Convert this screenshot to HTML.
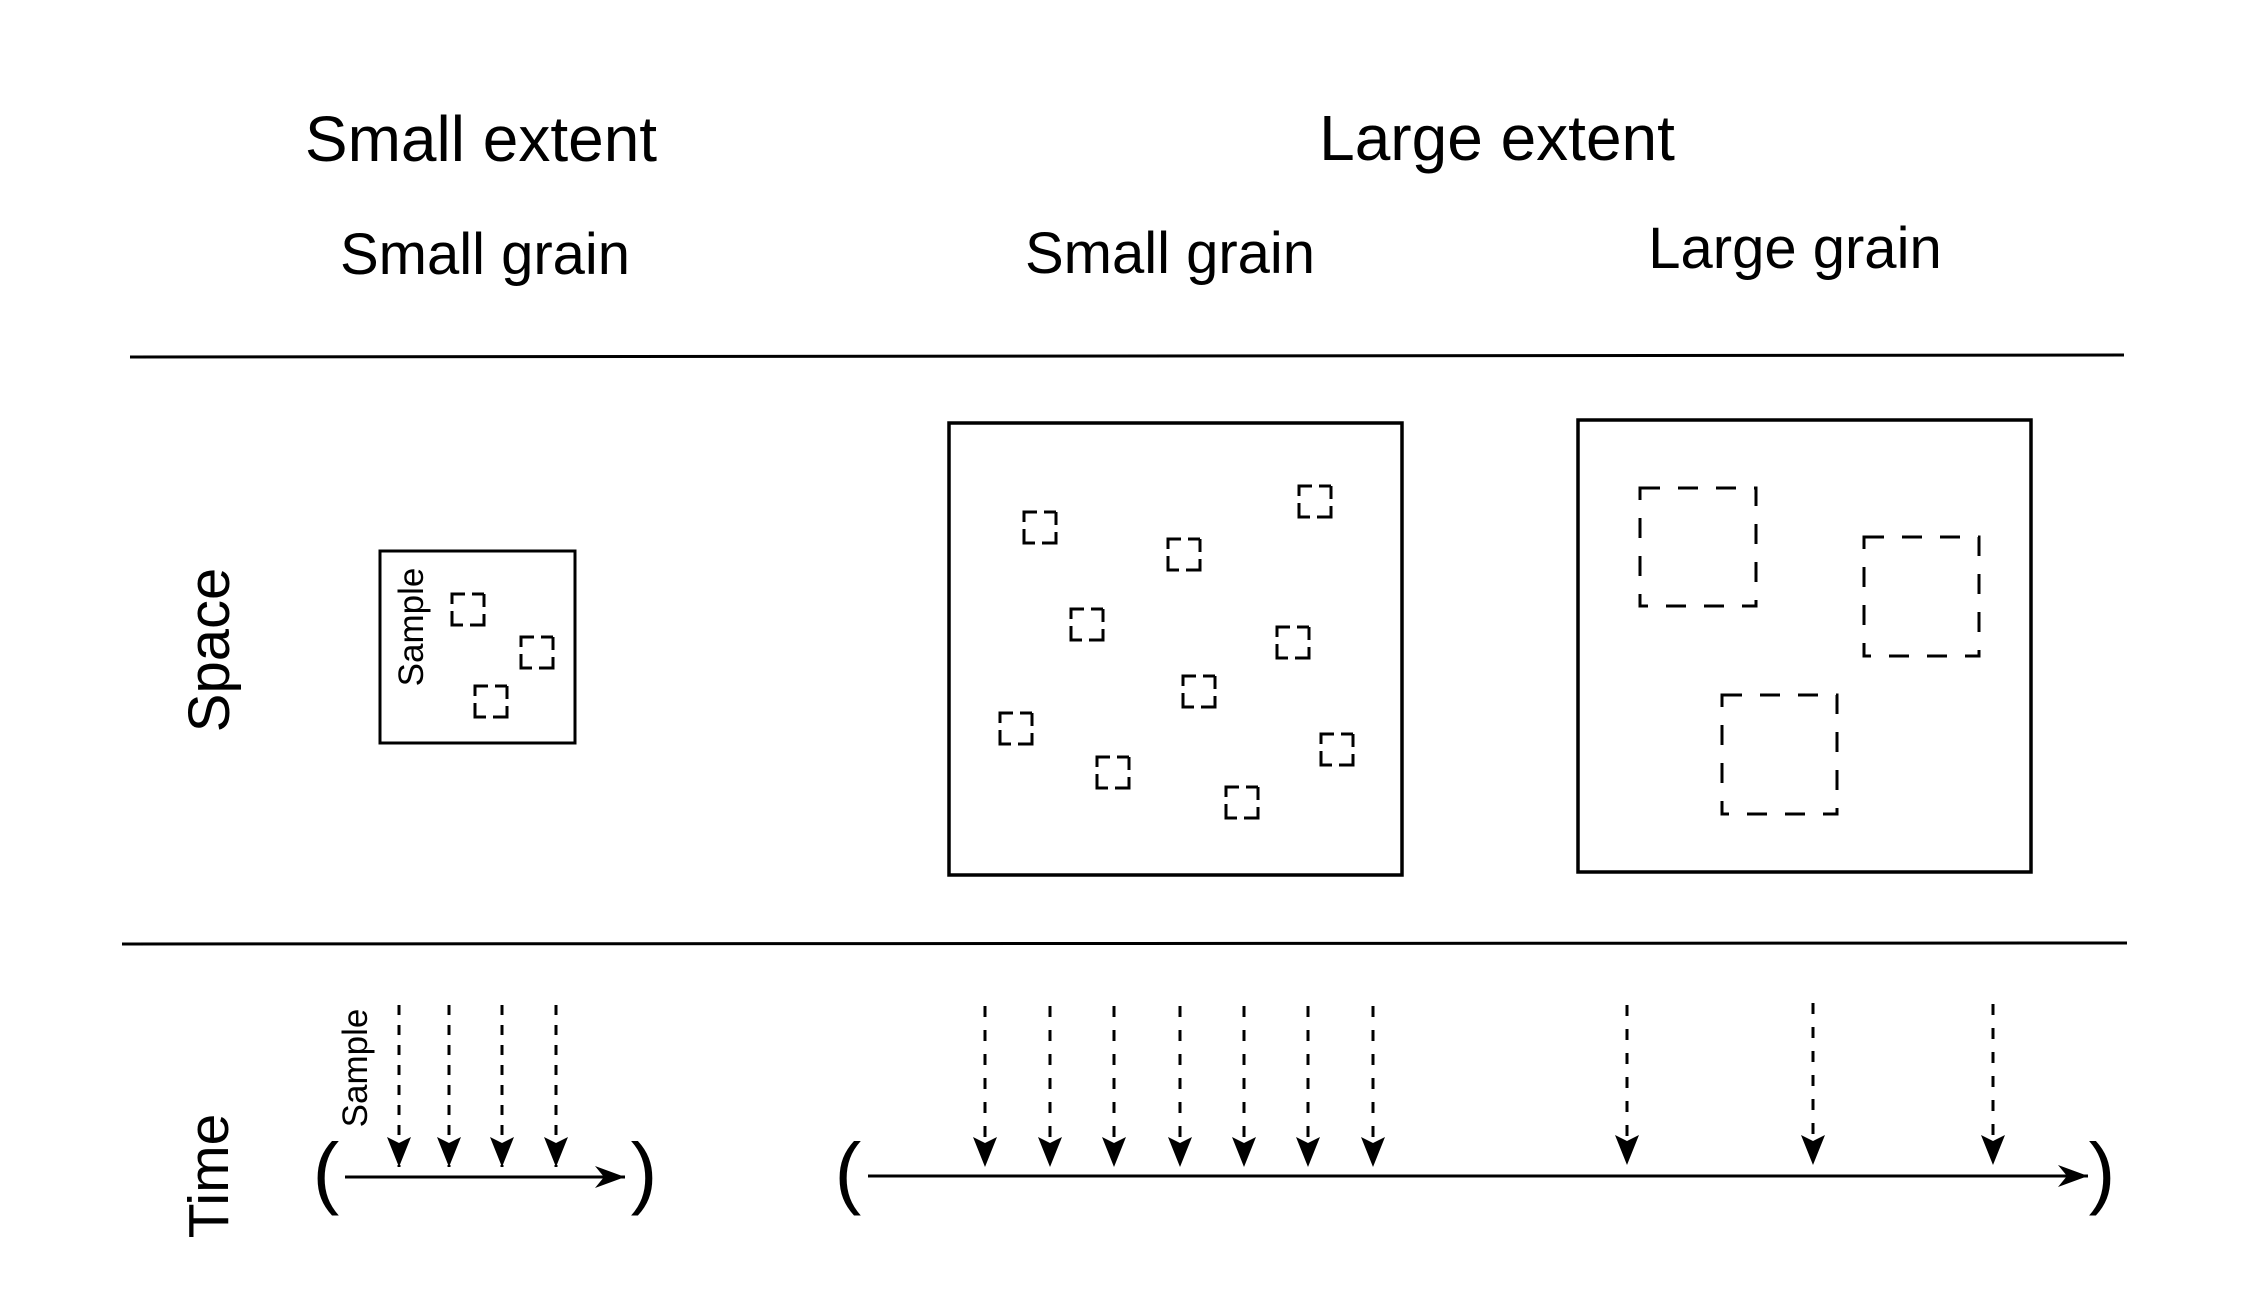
<!DOCTYPE html>
<html><head><meta charset="utf-8"><style>
html,body{margin:0;padding:0;background:#fff;}
svg{display:block;}
text{font-family:"Liberation Sans",Arial,sans-serif;fill:#000;}
</style></head><body>
<svg width="2242" height="1310" viewBox="0 0 2242 1310" xmlns="http://www.w3.org/2000/svg">
<defs>
<marker id="ah" viewBox="0 0 10 10" refX="10" refY="5" markerWidth="30" markerHeight="22" markerUnits="userSpaceOnUse" orient="auto" preserveAspectRatio="none">
<path d="M0,0 L10,5 L0,10 L3,5 Z" fill="#000"/>
</marker>
<marker id="dh" viewBox="0 0 10 10" refX="10" refY="5" markerWidth="30" markerHeight="24" markerUnits="userSpaceOnUse" orient="auto" preserveAspectRatio="none">
<path d="M0,0 L10,5 L0,10 L2,5 Z" fill="#000"/>
</marker>
</defs>

<text x="481" y="161" font-size="64" text-anchor="middle">Small extent</text>
<text x="1497" y="160" font-size="64" text-anchor="middle">Large extent</text>
<text x="485" y="274" font-size="58" text-anchor="middle">Small grain</text>
<text x="1170" y="273" font-size="58" text-anchor="middle">Small grain</text>
<text x="1795" y="268" font-size="58" text-anchor="middle">Large grain</text>

<line x1="130" y1="357" x2="2124" y2="355" stroke="#000" stroke-width="3"/>
<line x1="122" y1="944" x2="2127" y2="943" stroke="#000" stroke-width="3"/>

<text transform="translate(229,650) rotate(-90)" font-size="58" text-anchor="middle">Space</text>
<text transform="translate(228,1176) rotate(-90)" font-size="57" text-anchor="middle">Time</text>

<rect x="380" y="551" width="195" height="192" fill="none" stroke="#000" stroke-width="3"/>
<text transform="translate(423,627) rotate(-90)" font-size="35" text-anchor="middle">Sample</text>

<g fill="none" stroke="#000" stroke-width="3" stroke-dasharray="13 7 12 0">
<rect x="452" y="594" width="32" height="31"/>
<rect x="521" y="637" width="32" height="31"/>
<rect x="475" y="686" width="32" height="31"/>
</g>

<rect x="949" y="423" width="453" height="452" fill="none" stroke="#000" stroke-width="3.5"/>
<g fill="none" stroke="#000" stroke-width="3" stroke-dasharray="13 7 12 0">
<rect x="1024" y="512" width="32" height="31"/>
<rect x="1168" y="539" width="32" height="31"/>
<rect x="1299" y="486" width="32" height="31"/>
<rect x="1071" y="609" width="32" height="31"/>
<rect x="1277" y="627" width="32" height="31"/>
<rect x="1183" y="676" width="32" height="31"/>
<rect x="1000" y="713" width="32" height="31"/>
<rect x="1097" y="757" width="32" height="31"/>
<rect x="1226" y="787" width="32" height="31"/>
<rect x="1321" y="734" width="32" height="31"/>
</g>

<rect x="1578" y="420" width="453" height="452" fill="none" stroke="#000" stroke-width="3.5"/>
<g fill="none" stroke="#000" stroke-width="3" stroke-dasharray="20 18">
<rect x="1640" y="488" width="116" height="118"/>
<rect x="1864" y="537" width="115" height="119"/>
<rect x="1722" y="695" width="115" height="119"/>
</g>

<text transform="translate(367,1068) rotate(-90)" font-size="35" text-anchor="middle">Sample</text>
<text x="326" y="1199" font-size="80" text-anchor="middle">(</text>
<text x="644" y="1199" font-size="80" text-anchor="middle">)</text>
<line x1="345" y1="1177" x2="625" y2="1177" stroke="#000" stroke-width="3" marker-end="url(#ah)"/>
<g stroke="#000" stroke-width="3" stroke-dasharray="10 10" marker-end="url(#dh)">
<line x1="399" y1="1005" x2="399" y2="1167"/>
<line x1="449" y1="1005" x2="449" y2="1167"/>
<line x1="502" y1="1005" x2="502" y2="1167"/>
<line x1="556" y1="1005" x2="556" y2="1167"/>
</g>

<text x="848" y="1199" font-size="80" text-anchor="middle">(</text>
<text x="2102" y="1199" font-size="80" text-anchor="middle">)</text>
<line x1="868" y1="1176" x2="2088" y2="1176" stroke="#000" stroke-width="3" marker-end="url(#ah)"/>
<g stroke="#000" stroke-width="3" stroke-dasharray="11 13" marker-end="url(#dh)">
<line x1="985" y1="1006" x2="985" y2="1167"/>
<line x1="1050" y1="1006" x2="1050" y2="1167"/>
<line x1="1114" y1="1006" x2="1114" y2="1167"/>
<line x1="1180" y1="1006" x2="1180" y2="1167"/>
<line x1="1244" y1="1006" x2="1244" y2="1167"/>
<line x1="1308" y1="1006" x2="1308" y2="1167"/>
<line x1="1373" y1="1006" x2="1373" y2="1167"/>
<line x1="1627" y1="1005" x2="1627" y2="1165"/>
<line x1="1813" y1="1003" x2="1813" y2="1165"/>
<line x1="1993" y1="1004" x2="1993" y2="1165"/>
</g>
</svg>
</body></html>
